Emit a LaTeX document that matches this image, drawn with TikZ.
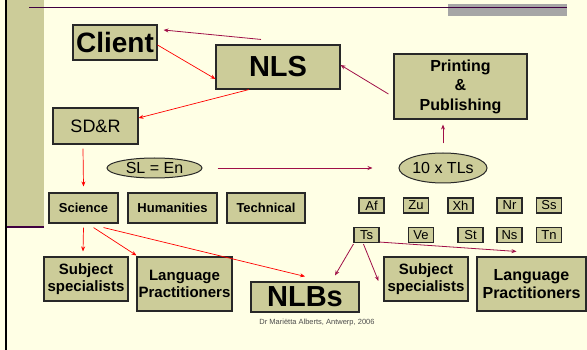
\documentclass[tikz,border=0pt]{standalone}
\usepackage{fontspec}
\setmainfont{Liberation Sans}
\usetikzlibrary{arrows.meta,shapes.geometric}
\definecolor{bg}{RGB}{255,255,229}
\definecolor{khaki}{RGB}{204,204,153}
\definecolor{crim}{RGB}{160,16,72}
\definecolor{dpurple}{RGB}{64,0,64}
\definecolor{boxline}{RGB}{40,40,40}
\definecolor{bargray}{RGB}{166,166,166}
\begin{document}
\begin{tikzpicture}[x=1pt,y=-1pt,
 box/.style={draw=boxline,fill=khaki,line width=1.1pt,inner sep=0pt,align=center},
 ell/.style={ellipse,draw=boxline,fill=khaki,line width=1pt,inner sep=0pt},
 tl/.style={box,minimum width=25pt,minimum height=15pt,font=\fontsize{13}{13}\selectfont},
 redarr/.style={draw=red,line width=0.7pt,-{Stealth[length=5pt,width=4pt]}},
 crimarr/.style={draw=crim,line width=0.8pt,-{Stealth[length=5pt,width=4pt]}},
]
\useasboundingbox (0,0) rectangle (587,350);
\fill[bg] (0,0) rectangle (587,350);
% slide decoration
\fill[khaki] (7,0) rectangle (44,226);
\fill[dpurple] (7,226) rectangle (44,228.5);
\fill[black] (4.5,0) rectangle (7,350);
\fill[bargray] (448,4) rectangle (567,16);
\draw[dpurple,line width=1pt] (29,8) -- (567,8);

% nodes
\node[box,minimum width=84pt,minimum height=35pt,font=\fontsize{28}{28}\selectfont\bfseries] (client) at (115,42.5) {Client};
\node[box,minimum width=124pt,minimum height=44pt,font=\fontsize{29}{29}\selectfont\bfseries] (nls) at (278,67) {NLS};
\node[box,minimum width=133pt,minimum height=65pt,font=\fontsize{16}{19.5}\selectfont\bfseries] (pp) at (460.5,86.5) {Printing\\\&\\Publishing};
\node[box,minimum width=85pt,minimum height=36pt,font=\fontsize{18}{18}\selectfont] (sdr) at (95.5,126) {SD\&R};
\node[ell,minimum width=95pt,minimum height=20pt,font=\fontsize{16}{16}\selectfont] (sl) at (154.5,168) {SL = En};
\node[ell,minimum width=88pt,minimum height=30pt,font=\fontsize{16}{16}\selectfont] (tls) at (443,168) {10 x TLs};

\node[box,minimum width=69pt,minimum height=30pt,font=\fontsize{13}{13}\selectfont\bfseries] (sci) at (83.5,208) {Science};
\node[box,minimum width=89pt,minimum height=30pt,font=\fontsize{13}{13}\selectfont\bfseries] (hum) at (172.5,208) {Humanities};
\node[box,minimum width=78pt,minimum height=30pt,font=\fontsize{13}{13}\selectfont\bfseries] (tech) at (266,208) {Technical};

\node[box,minimum width=84pt,minimum height=44pt,font=\fontsize{15}{17}\selectfont\bfseries] (ss1) at (86,279) {Subject\\specialists};
\node[box,minimum width=95pt,minimum height=54pt,font=\fontsize{15}{17}\selectfont\bfseries] (lp1) at (184.5,284) {Language\\Practitioners};
\node[box,minimum width=108pt,minimum height=30pt,font=\fontsize{29}{29}\selectfont\bfseries] (nlbs) at (305,297) {NLBs};

\node[tl] (af) at (371.5,205.5) {Af};
\node[tl] (zu) at (416,205.5) {Zu};
\node[tl] (xh) at (460.5,205.5) {Xh};
\node[tl] (nr) at (509.5,205.5) {Nr};
\node[tl] (ss) at (549,205.5) {Ss};
\node[tl] (ts) at (366.5,235) {Ts};
\node[tl] (ve) at (421,235) {Ve};
\node[tl] (st) at (470.5,235) {St};
\node[tl] (ns) at (509.5,235) {Ns};
\node[tl] (tn) at (549,235) {Tn};

\node[box,minimum width=84pt,minimum height=44pt,font=\fontsize{15}{17}\selectfont\bfseries] (ss2) at (426,279) {Subject\\specialists};
\node[box,minimum width=109pt,minimum height=54pt,font=\fontsize{16}{18}\selectfont\bfseries] (lp2) at (531.5,284) {Language\\Practitioners};

\node[font=\fontsize{7.5}{8}\selectfont,text=black!70] (foot) at (317,323) {Dr Mariëtta Alberts, Antwerp, 2006};

% connectors
\draw[crimarr] ([xshift=-17pt,yshift=5pt]nls.north) -- ([xshift=6pt,yshift=12.5pt]client.east);
\draw[redarr] ([yshift=-2.5pt]client.east) -- ([yshift=-12pt]nls.west);
\draw[redarr] ([xshift=-29pt]nls.south) -- ([yshift=8pt]sdr.east);
\draw[crimarr] ([xshift=-5pt,yshift=-7.5pt]pp.west) -- ([yshift=2pt]nls.east);
\draw[crimarr] ([xshift=15pt]sl.east) -- ([xshift=-26pt]tls.west);
\draw[crimarr] ([yshift=9pt]tls.north) -- ([xshift=-17.5pt,yshift=-5pt]pp.south);
\draw[redarr] ([xshift=-12.5pt,yshift=-4pt]sdr.south) -- ([yshift=6pt]sci.north);
\draw[redarr] ([yshift=-4pt]sci.south) -- ([xshift=-3pt,yshift=5pt]ss1.north);
\draw[redarr] ([xshift=10pt,yshift=-4pt]sci.south) -- ([yshift=1pt]lp1.north west);
\draw[redarr] ([xshift=20pt,yshift=-4pt]sci.south) -- ([yshift=5pt]nlbs.north);
\draw[crimarr] ([yshift=-1pt]ts.south west) -- ([xshift=30pt,yshift=6pt]nlbs.north);
\draw[crimarr] ([xshift=10pt,yshift=-1pt]ts.south west) -- ([xshift=-5pt,yshift=-2pt]ss2.west);
\draw[crimarr] ([yshift=1pt]ts.south east) -- ([xshift=-15pt,yshift=5pt]lp2.north);
\end{tikzpicture}
\end{document}
